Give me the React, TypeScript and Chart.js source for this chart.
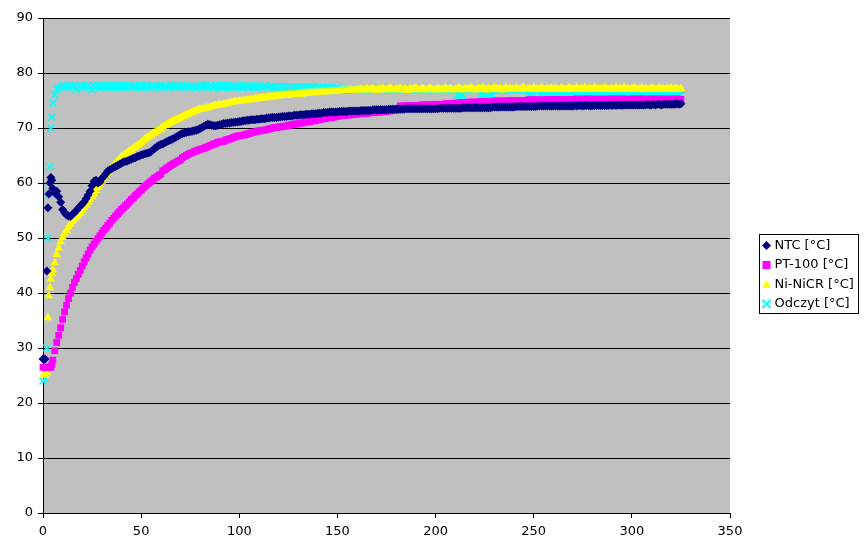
import React, { useEffect, useRef } from 'react';
import { Chart, registerables } from 'chart.js';

Chart.register(...registerables);

// time axis [s]
const seconds = [0, 1, 2, 2.5, 3, 3.5, 4, 4.5, 5,
  6, 7, 8, 9, 10,
  11, 12, 13, 14, 15, 16, 17, 18, 19, 20,
  21, 22, 23, 24, 25, 26, 27, 28, 29, 30,
  31, 32, 33, 34, 35, 36, 37, 38, 39, 40,
  41, 42, 43, 44, 45, 46, 47, 48, 49, 50,
  51, 52, 53, 54, 55, 56, 57, 58, 59, 60,
  61, 62, 63, 64, 65, 66, 67, 68, 69, 70,
  71, 72, 73, 74, 75, 76, 77, 78, 79, 80,
  81, 82, 83, 84, 85, 86, 87, 88, 89, 90,
  91, 92, 93, 94, 95, 96, 97, 98, 99, 100,
  101, 102, 103, 104, 105, 106, 107, 108, 109, 110,
  111, 112, 113, 114, 115, 116, 117, 118, 119, 120,
  121, 122, 123, 124, 125, 126, 127, 128, 129, 130,
  131, 132, 133, 134, 135, 136, 137, 138, 139, 140,
  141, 142, 143, 144, 145, 146, 147, 148, 149, 150,
  151, 152, 153, 154, 155, 156, 157, 158, 159, 160,
  161, 162, 163, 164, 165, 166, 167, 168, 169, 170,
  171, 172, 173, 174, 175, 176, 177, 178, 179, 180,
  181, 182, 183, 184, 185, 186, 187, 188, 189, 190,
  191, 192, 193, 194, 195, 196, 197, 198, 199, 200,
  201, 202, 203, 204, 205, 206, 207, 208, 209, 210,
  211, 212, 213, 214, 215, 216, 217, 218, 219, 220,
  221, 222, 223, 224, 225, 226, 227, 228, 229, 230,
  231, 232, 233, 234, 235, 236, 237, 238, 239, 240,
  241, 242, 243, 244, 245, 246, 247, 248, 249, 250,
  251, 252, 253, 254, 255, 256, 257, 258, 259, 260,
  261, 262, 263, 264, 265, 266, 267, 268, 269, 270,
  271, 272, 273, 274, 275, 276, 277, 278, 279, 280,
  281, 282, 283, 284, 285, 286, 287, 288, 289, 290,
  291, 292, 293, 294, 295, 296, 297, 298, 299, 300,
  301, 302, 303, 304, 305, 306, 307, 308, 309, 310,
  311, 312, 313, 314, 315, 316, 317, 318, 319, 320,
  321, 322, 323, 324, 325];

const ntc = [28, 28, 44, 55.5, 58, 60, 61, 60.5, 59,
  58.2, 58.5, 57.5, 56.5, 55.2,
  54.6, 54.2, 54, 53.9, 54.3, 54.6, 55, 55.4, 55.8, 56.2,
  56.6, 57.2, 57.8, 58.5, 59.5, 60.3, 60.5, 60, 60.2, 60.8,
  61.2, 61.7, 62.2, 62.4, 62.6, 62.8, 63, 63.2, 63.4, 63.6,
  63.8, 63.9, 64, 64.2, 64.3, 64.5, 64.6, 64.8, 64.9, 65.1,
  65.2, 65.3, 65.4, 65.5, 65.7, 66, 66.3, 66.6, 66.8, 67,
  67.1, 67.3, 67.5, 67.7, 67.8, 68, 68.2, 68.4, 68.6, 68.8,
  69, 69.1, 69.2, 69.3, 69.3, 69.4, 69.5, 69.6, 69.7, 69.9,
  70.1, 70.3, 70.5, 70.7, 70.6, 70.5, 70.4, 70.4, 70.5, 70.6,
  70.7, 70.8, 70.8, 70.9, 70.9, 71, 71, 71.1, 71.1, 71.2,
  71.2, 71.3, 71.3, 71.4, 71.4, 71.5, 71.5, 71.5, 71.6, 71.6,
  71.7, 71.7, 71.7, 71.8, 71.8, 71.9, 71.9, 71.9, 71.9, 72,
  72, 72.1, 72.1, 72.1, 72.2, 72.2, 72.2, 72.3, 72.3, 72.3,
  72.4, 72.4, 72.4, 72.5, 72.5, 72.5, 72.6, 72.6, 72.6, 72.7,
  72.7, 72.7, 72.8, 72.8, 72.8, 72.9, 72.9, 72.9, 72.9, 72.9,
  73, 73, 73, 73, 73, 73.1, 73.1, 73.1, 73.1, 73.1,
  73.1, 73.2, 73.2, 73.2, 73.2, 73.2, 73.2, 73.3, 73.3, 73.3,
  73.3, 73.3, 73.3, 73.3, 73.3, 73.4, 73.4, 73.4, 73.4, 73.4,
  73.4, 73.4, 73.4, 73.4, 73.5, 73.5, 73.5, 73.5, 73.5, 73.5,
  73.5, 73.5, 73.5, 73.5, 73.5, 73.5, 73.5, 73.5, 73.5, 73.5,
  73.5, 73.6, 73.6, 73.6, 73.6, 73.6, 73.6, 73.6, 73.6, 73.6,
  73.6, 73.6, 73.6, 73.7, 73.7, 73.7, 73.7, 73.7, 73.7, 73.7,
  73.7, 73.7, 73.7, 73.7, 73.7, 73.7, 73.7, 73.7, 73.8, 73.8,
  73.8, 73.8, 73.8, 73.8, 73.8, 73.8, 73.8, 73.8, 73.8, 73.8,
  73.9, 73.9, 73.9, 73.9, 73.9, 73.9, 73.9, 73.9, 73.9, 73.9,
  73.9, 74, 74, 74, 74, 74, 74, 74, 74, 74,
  74, 74, 74, 74, 74, 74, 74, 74, 74, 74,
  74.1, 74, 74.1, 74.1, 74, 74.1, 74.1, 74.1, 74, 74.1,
  74.1, 74.1, 74.1, 74.1, 74.1, 74.1, 74.1, 74.1, 74.2, 74.1,
  74.2, 74.1, 74.2, 74.2, 74.1, 74.2, 74.2, 74.2, 74.2, 74.2,
  74.2, 74.2, 74.2, 74.2, 74.2, 74.2, 74.2, 74.3, 74.2, 74.2,
  74.3, 74.2, 74.3, 74.3, 74.2, 74.3, 74.3, 74.3, 74.3, 74.3,
  74.3, 74.3, 74.4, 74.3, 74.4];

const pt100 = [26.5, 26.5, 26.5, 26.5, 26.5, 26.5, 26.5, 27, 27.8,
  29.5, 31, 32.3, 33.7, 35.2,
  36.6, 37.8, 39, 40, 41, 41.9, 42.6, 43.4, 44.1, 44.9,
  45.7, 46.4, 47.1, 47.8, 48.4, 48.9, 49.4, 49.9, 50.4, 50.9,
  51.4, 51.8, 52.3, 52.7, 53.2, 53.6, 54, 54.4, 54.8, 55.2,
  55.5, 55.9, 56.2, 56.6, 57, 57.3, 57.7, 58, 58.4, 58.7,
  59.1, 59.4, 59.7, 60, 60.3, 60.6, 60.9, 61.1, 61.4, 61.6,
  62.2, 62.4, 62.7, 62.9, 63.2, 63.4, 63.6, 63.8, 64, 64.2,
  64.6, 64.8, 65, 65.2, 65.4, 65.5, 65.7, 65.8, 66, 66.1,
  66.2, 66.3, 66.5, 66.6, 66.8, 66.9, 67.1, 67.2, 67.4, 67.5,
  67.5, 67.6, 67.8, 67.9, 68, 68.1, 68.3, 68.4, 68.5, 68.6,
  68.6, 68.7, 68.8, 68.9, 69, 69.1, 69.2, 69.3, 69.4, 69.5,
  69.5, 69.6, 69.6, 69.7, 69.8, 69.9, 70, 70.1, 70.1, 70.2,
  70.2, 70.3, 70.3, 70.4, 70.5, 70.5, 70.6, 70.7, 70.7, 70.8,
  70.9, 70.9, 71, 71.1, 71.1, 71.2, 71.3, 71.3, 71.4, 71.5,
  71.5, 71.6, 71.7, 71.7, 71.8, 71.9, 71.9, 72, 72.1, 72.1,
  72.2, 72.3, 72.3, 72.3, 72.4, 72.4, 72.4, 72.5, 72.5, 72.5,
  72.6, 72.6, 72.6, 72.7, 72.7, 72.7, 72.8, 72.8, 72.8, 72.9,
  72.9, 72.9, 73, 73, 73, 73.1, 73.1, 73.2, 73.2, 73.3,
  73.5, 74, 74, 74, 74, 74, 74.1, 74.1, 74.1, 74.1,
  74.1, 74.1, 74.2, 74.2, 74.2, 74.2, 74.2, 74.2, 74.3, 74.3,
  74.3, 74.3, 74.3, 74.3, 74.4, 74.4, 74.4, 74.4, 74.5, 74.5,
  74.5, 74.6, 74.6, 74.6, 74.6, 74.6, 74.7, 74.7, 74.7, 74.7,
  74.7, 74.7, 74.8, 74.8, 74.8, 74.8, 74.8, 74.8, 74.8, 74.9,
  74.9, 74.9, 74.9, 74.9, 74.9, 74.9, 74.9, 75, 75, 75,
  75, 75, 75, 75, 75, 75, 75.1, 75.1, 75.1, 75.1,
  75.1, 75.1, 75.1, 75.1, 75.1, 75.1, 75.2, 75.2, 75.2, 75.2,
  75.2, 75.2, 75.2, 75.2, 75.2, 75.2, 75.2, 75.2, 75.2, 75.2,
  75.2, 75.3, 75.2, 75.2, 75.2, 75.3, 75.2, 75.2, 75.3, 75.2,
  75.2, 75.2, 75.3, 75.2, 75.2, 75.2, 75.3, 75.2, 75.2, 75.3,
  75.2, 75.2, 75.3, 75.2, 75.2, 75.3, 75.2, 75.2, 75.2, 75.3,
  75.2, 75.2, 75.3, 75.2, 75.2, 75.3, 75.2, 75.2, 75.2, 75.3,
  75.2, 75.2, 75.3, 75.2, 75.2, 75.3, 75.2, 75.2, 75.2, 75.3,
  75.2, 75.2, 75.3, 75.2, 75.2];

const niNiCr = [25, 25, 25.5, 35.5, 39.5, 41, 42.5, 43.5, 44.2,
  45.5, 47, 48.2, 49.3, 50.1,
  50.8, 51.4, 52, 52.5, 53, 53.4, 53.8, 54.1, 54.5, 55,
  55.5, 56, 56.5, 57, 57.5, 58, 58.6, 59.2, 59.7, 60.3,
  60.9, 61.4, 61.9, 62.4, 62.8, 63.2, 63.6, 64, 64.4, 64.8,
  65, 65.3, 65.5, 65.8, 66, 66.3, 66.5, 66.8, 67, 67.3,
  67.7, 68, 68.2, 68.5, 68.7, 69, 69.2, 69.4, 69.6, 69.8,
  70.2, 70.4, 70.6, 70.8, 71, 71.2, 71.4, 71.5, 71.7, 71.8,
  72.1, 72.2, 72.4, 72.5, 72.7, 72.8, 73, 73.1, 73.3, 73.4,
  73.4, 73.5, 73.6, 73.7, 73.8, 73.9, 74, 74.1, 74.2, 74.3,
  74.2, 74.3, 74.4, 74.5, 74.6, 74.7, 74.7, 74.8, 74.8, 74.9,
  74.9, 75, 75, 75.1, 75.1, 75.2, 75.2, 75.3, 75.3, 75.4,
  75.4, 75.5, 75.5, 75.6, 75.6, 75.7, 75.7, 75.7, 75.8, 75.8,
  75.9, 75.9, 75.9, 76, 76, 76, 76.1, 76.1, 76.1, 76.2,
  76.2, 76.2, 76.3, 76.3, 76.3, 76.4, 76.4, 76.4, 76.5, 76.5,
  76.5, 76.6, 76.6, 76.6, 76.6, 76.7, 76.7, 76.7, 76.7, 76.7,
  76.8, 76.8, 76.8, 76.8, 76.8, 76.9, 76.9, 76.9, 76.9, 76.9,
  77, 77.1, 76.9, 77, 77.2, 76.9, 77, 77.1, 77, 76.8,
  77.1, 77, 77.2, 76.9, 77, 77.1, 77.3, 77, 76.9, 77.1,
  77, 77.2, 76.9, 77.1, 77, 76.8, 77.2, 77, 77.1, 77.3,
  76.9, 77, 77.2, 77.1, 76.9, 77, 77.3, 77.1, 77, 76.9,
  77.2, 77, 77.1, 76.9, 77.3, 77, 77.1, 77.2, 76.9, 77,
  77.1, 77.3, 77, 76.9, 77.2, 77.1, 77, 77.3, 77.1, 76.9,
  77, 77.2, 77.1, 77.3, 77, 76.9, 77.2, 77, 77.1, 77.3,
  77.1, 77, 77.2, 76.9, 77.1, 77.3, 77, 77.2, 77.1, 77,
  77.3, 77.1, 77, 77.2, 77.4, 77, 77.1, 77.2, 77, 77.3,
  77.1, 77.2, 77, 77.3, 77.1, 77, 77.2, 77.1, 77.3, 77,
  77.2, 77.1, 77, 77.3, 77.2, 77, 77.1, 77.3, 77.2, 77,
  77.1, 77.3, 77, 77.2, 77.1, 77.4, 77, 77.2, 77.1, 77,
  77.3, 77.1, 77.2, 77, 77.1, 77.3, 77.2, 77, 77.1, 77.2,
  77, 77.3, 77.1, 77.2, 77, 77.4, 77.1, 77.2, 77, 77.1,
  77.3, 77.2, 77, 77.1, 77.3, 77.1, 77.2, 77, 77.1, 77.3,
  77.2, 77, 77.1, 77.3, 77.1, 77.2, 77, 77.2, 77.1, 77.3,
  77, 77.2, 77.1, 77, 77.2];

const odczyt = [24, 24.5, 30, 50, 58, 63, 70, 72, 74.5,
  76, 77, 77.3, 77.5, 77.8,
  77.5, 77.6, 77.4, 77.8, 77.5, 77.6, 77, 77.5, 77.8, 77.4,
  77.6, 77.5, 77.8, 77.4, 77, 77.6, 77.5, 77.8, 77.3, 77.6,
  77.5, 77.8, 77.4, 77.6, 77.5, 77.8, 77.3, 77.6, 77.5, 77.8,
  77.5, 77.6, 77.3, 77.8, 77.5, 77.4, 77.7, 77.5, 77.8, 77.3,
  77.6, 77.5, 77.8, 77.4, 77.6, 77.5, 77.3, 77.7, 77.5, 77.8,
  77.4, 77.6, 77.5, 77.3, 77.8, 77.5, 77.6, 77.4, 77.7, 77.5,
  77.8, 77.3, 77.6, 77.5, 77.4, 77.7, 77.5, 77.3, 77.6, 77.5,
  77.7, 77.5, 77.8, 77.4, 77.6, 77.5, 77.3, 77.8, 77.5, 77.6,
  77.4, 77.7, 77.5, 77.8, 77.3, 77.6, 77.5, 77.4, 77.7, 77.5,
  77.6, 77.3, 77.8, 77.5, 77.4, 77.6, 77.5, 77.7, 77.3, 77.6,
  77.5, 77.4, 77.7, 77.5, 77.3, 77.6, 77.5, 77.4, 77.6, 77.3,
  77.5, 77.4, 77.6, 77.3, 77.5, 77.2, 77.5, 77.4, 77.3, 77.5,
  77.4, 77.2, 77.5, 77.3, 77.4, 77.2, 77.5, 77.3, 77.2, 77.4,
  77.3, 77.2, 77.4, 77.1, 77.3, 77.2, 77.4, 77.1, 77.2, 77.3,
  77, 77.1, 77, 76.9, 77, 77.1, 77, 76.9, 77, 77.1,
  77, 76.9, 77, 77.1, 77, 76.9, 77, 77, 76.9, 77,
  77.1, 77, 76.9, 77, 77, 77.1, 77, 76.9, 77, 77,
  77, 76.9, 77, 77.1, 77, 76.9, 77, 77, 77.1, 77,
  76.9, 77, 77, 77.1, 77, 76.9, 77, 77, 77, 77.1,
  77, 76.9, 77, 77, 77, 77, 77.1, 77, 77, 76.9,
  76, 76, 76, 76, 77, 77, 77, 77, 77, 77,
  77, 77, 76, 76, 76, 76, 76, 76, 76, 77,
  77, 77, 77, 76.9, 77, 77, 77, 77, 77, 77,
  77, 77, 77, 77, 77, 77, 76, 76, 76, 76,
  77, 77, 76, 76, 76, 76, 76, 76, 76, 76,
  76, 76, 76, 76, 76, 76, 76, 76, 76, 76,
  76, 76, 76, 76, 76, 76, 76, 76, 76, 76,
  76, 76, 76, 76, 76, 76, 76, 76, 76, 76,
  76, 76, 76, 76, 76, 76, 76, 76, 76, 76,
  76, 76, 76, 76, 76, 76, 76, 76, 76, 76,
  76, 76, 76, 76, 76, 76, 76, 76, 76, 76,
  76, 76, 76, 76, 76];

const seriesLabels = ['NTC [°C]', 'PT-100 [°C]', 'Ni-NiCR [°C]', 'Odczyt [°C]'];
const seriesColors = ['#000080', '#ff00ff', '#ffff00', '#00ffff'];
const seriesStyles = ['rectRot', 'rect', 'triangle', 'crossRot'];
const seriesValues = [ntc, pt100, niNiCr, odczyt];

const xMin = 0, xMax = 350, xStep = 50;
const yMin = 0, yMax = 90, yStep = 10;

const FONT = 'DejaVu Sans';

function drawMarker(ctx: CanvasRenderingContext2D, style: string, cx: number, cy: number, color: string) {
  ctx.save();
  ctx.fillStyle = color;
  ctx.strokeStyle = color;
  ctx.beginPath();
  if (style === 'rectRot') {
    ctx.moveTo(cx, cy - 4.5);
    ctx.lineTo(cx + 4.5, cy);
    ctx.lineTo(cx, cy + 4.5);
    ctx.lineTo(cx - 4.5, cy);
    ctx.closePath();
    ctx.fill();
  } else if (style === 'rect') {
    ctx.rect(cx - 4, cy - 4, 8, 8);
    ctx.fill();
  } else if (style === 'triangle') {
    ctx.moveTo(cx, cy - 4.5);
    ctx.lineTo(cx + 4.5, cy + 3.5);
    ctx.lineTo(cx - 4.5, cy + 3.5);
    ctx.closePath();
    ctx.fill();
  } else {
    ctx.lineWidth = 2;
    ctx.moveTo(cx - 4, cy - 4);
    ctx.lineTo(cx + 4, cy + 4);
    ctx.moveTo(cx + 4, cy - 4);
    ctx.lineTo(cx - 4, cy + 4);
    ctx.stroke();
  }
  ctx.restore();
}

const plotBgPlugin = {
  id: 'plotBg',
  beforeDraw(chart: any) {
    const { ctx, chartArea } = chart;
    ctx.save();
    ctx.fillStyle = '#c0c0c0';
    ctx.fillRect(chartArea.left, chartArea.top, chartArea.right - chartArea.left, chartArea.bottom - chartArea.top);
    ctx.restore();
  },
};

const boxLegendPlugin = {
  id: 'boxLegend',
  afterDraw(chart: any) {
    const ctx: CanvasRenderingContext2D = chart.ctx;
    const left = Math.round(chart.chartArea.right + 29) + 0.5;
    const top = 234.5;
    ctx.save();
    ctx.strokeStyle = '#000';
    ctx.lineWidth = 1;
    ctx.strokeRect(left, top, 99, 79);
    ctx.font = `13px "${FONT}"`;
    ctx.textBaseline = 'middle';
    ctx.textAlign = 'left';
    chart.data.datasets.forEach((ds: any, i: number) => {
      const cy = top + 11 + i * 19.5;
      drawMarker(ctx, seriesStyles[i], left + 7, cy, seriesColors[i]);
      ctx.fillStyle = '#000';
      ctx.fillText(ds.label, left + 15, cy);
    });
    ctx.restore();
  },
};

export default function App() {
  const canvasRef = useRef<HTMLCanvasElement | null>(null);

  useEffect(() => {
    const canvas = canvasRef.current;
    if (!canvas) return;
    const datasets = seriesValues.map((vals, i) => ({
      label: seriesLabels[i],
      data: seconds.map((x, k) => ({ x, y: vals[k] })),
      showLine: false,
      pointStyle: seriesStyles[i],
      pointRadius: i === 0 ? 4.5 : i === 1 ? 4.8 : i === 2 ? 5 : 5,
      pointBackgroundColor: seriesColors[i],
      pointBorderColor: seriesColors[i],
      pointBorderWidth: i === 3 ? 1.6 : 0,
      clip: false as any,
    }));

    const chart = new Chart(canvas, {
      type: 'scatter',
      data: { datasets },
      options: {
        animation: false,
        responsive: false,
        devicePixelRatio: 1,
        events: [],
        layout: { padding: { top: 18, right: 137, left: 0, bottom: 0 } },
        plugins: {
          legend: { display: false },
          tooltip: { enabled: false },
          title: { display: false },
        },
        scales: {
          x: {
            type: 'linear',
            min: xMin,
            max: xMax,
            afterFit(scale: any) { scale.height = 35; },
            ticks: { stepSize: xStep, color: '#000', font: { family: FONT, size: 13 }, padding: 6, maxRotation: 0 },
            grid: { drawOnChartArea: false, drawTicks: true, tickLength: 5, color: '#000' },
            border: { color: '#000', width: 1 },
          },
          y: {
            type: 'linear',
            min: yMin,
            max: yMax,
            afterFit(scale: any) { scale.width = 43; },
            ticks: { stepSize: yStep, color: '#000', font: { family: FONT, size: 13 }, padding: 5 },
            grid: { drawOnChartArea: true, drawTicks: true, tickLength: 5, color: '#000' },
            border: { color: '#000', width: 1 },
          },
        },
      },
      plugins: [plotBgPlugin, boxLegendPlugin],
    } as any);
    return () => chart.destroy();
  }, []);

  return (
    <canvas
      ref={canvasRef}
      width={867}
      height={548}
      style={{ position: 'fixed', left: 0, top: 0, width: 867, height: 548, display: 'block' }}
    />
  );
}
